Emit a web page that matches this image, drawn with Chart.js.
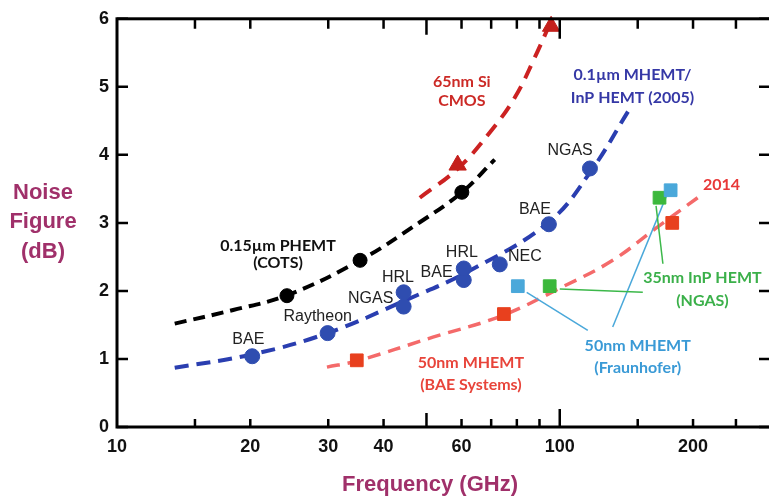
<!DOCTYPE html>
<html>
<head>
<meta charset="utf-8">
<script src="https://cdn.jsdelivr.net/npm/chart.js@4/dist/chart.umd.min.js"></script>
<style>
  html, body { margin: 0; padding: 0; background: #fff; overflow: hidden; }
</style>
</head>
<body>
<canvas id="c" width="790" height="497"></canvas>
<script>
// axis ticks
const xTickLabels = [10, 20, 30, 40, 60, 100, 200];
const xMinorTicks = [15, 20, 30, 40, 50, 60, 70, 80, 90, 100, 150, 200, 250];
const yTicks = [0, 1, 2, 3, 4, 5, 6];

// measured points
const phemtFreq = [24.2, 35.4, 60.1];
const phemtNF = [1.93, 2.45, 3.45];
const mhemtFreq = [20.2, 29.9, 44.4, 44.4, 60.7, 60.7, 73.2, 94.5, 117];
const mhemtNF = [1.04, 1.38, 1.98, 1.77, 2.16, 2.33, 2.39, 2.98, 3.80];
const cmosFreq = [58.8, 95.6];
const cmosNF = [3.85, 5.89];
const baeFreq = [34.8, 74.8, 179.5];
const baeNF = [0.98, 1.66, 3.00];
const fraunFreq = [80.4, 178];
const fraunNF = [2.07, 3.48];
const ngasFreq = [94.9, 168];
const ngasNF = [2.07, 3.37];

// trend curves
const phemtFitFreq = [13.5, 18.3, 24.3, 35.4, 48.3, 60.1, 71.3];
const phemtFitNF = [1.52, 1.72, 1.94, 2.45, 3.01, 3.45, 3.93];
const mhemtFitFreq = [13.5, 20.3, 29.9, 44.7, 62.7, 94.4, 117, 144];
const mhemtFitNF = [0.87, 1.07, 1.38, 1.86, 2.30, 3.01, 3.74, 4.68];
const cmosFitFreq = [48.3, 58.9, 69.5, 79.1, 87.8, 95.9];
const cmosFitNF = [3.37, 3.80, 4.33, 4.84, 5.43, 5.99];
const fit2014Freq = [29.8, 34.8, 51.7, 74.3, 100, 131.7, 165.5, 204.9];
const fit2014NF = [0.88, 0.97, 1.32, 1.64, 2.04, 2.45, 2.93, 3.37];

// leader lines for the callouts
const ngasLeadAFreq = [165, 171];
const ngasLeadANF = [3.25, 2.40];
const ngasLeadBFreq = [100, 154];
const ngasLeadBNF = [2.03, 1.98];
const fraunLeadAFreq = [84.2, 115.7];
const fraunLeadANF = [1.98, 1.42];
const fraunLeadBFreq = [131.7, 174];
const fraunLeadBNF = [1.47, 3.39];

// text notes: [text, freq, NF, colour, font]
const bold = 'bold 16px Lato';
const plain = '16px Arial';
const notes = [
  ['65nm Si', 60.1, 5.08, '#cc2a26', bold],
  ['CMOS', 60.1, 4.79, '#cc2a26', bold],
  ['0.1\u00b5m MHEMT/', 146, 5.18, '#3538a6', bold],
  ['InP HEMT (2005)', 146, 4.84, '#3538a6', bold],
  ['0.15\u00b5m PHEMT', 23.1, 2.67, '#111', bold],
  ['(COTS)', 23.1, 2.41, '#111', bold],
  ['50nm MHEMT', 63, 0.95, '#e8443a', bold],
  ['(BAE Systems)', 63, 0.62, '#e8443a', bold],
  ['35nm InP HEMT', 210, 2.19, '#3bb04a', bold],
  ['(NGAS)', 210, 1.86, '#3bb04a', bold],
  ['50nm MHEMT', 150, 1.20, '#3a9ad6', bold],
  ['(Fraunhofer)', 150, 0.87, '#3a9ad6', bold],
  ['2014', 232, 3.56, '#e83838', bold],
  ['BAE', 19.8, 1.29, '#222', plain],
  ['Raytheon', 28.4, 1.62, '#222', plain],
  ['NGAS', 37.4, 1.89, '#222', plain],
  ['HRL', 43.1, 2.19, '#222', plain],
  ['BAE', 52.7, 2.27, '#222', plain],
  ['HRL', 60.1, 2.56, '#222', plain],
  ['NEC', 83.4, 2.50, '#222', plain],
  ['BAE', 87.9, 3.19, '#222', plain],
  ['NGAS', 105.5, 4.06, '#222', plain]
];

const pts = (xs, ys) => xs.map((x, i) => ({ x, y: ys[i] }));

function markers(xs, ys, color, style, r) {
  return {
    data: pts(xs, ys), showLine: false, clip: false,
    pointStyle: style, pointRadius: r, pointBackgroundColor: color,
    pointBorderColor: color, pointBorderWidth: 1
  };
}
function curve(xs, ys, color, width, dash) {
  return {
    data: pts(xs, ys), showLine: true, pointRadius: 0,
    borderColor: color, borderWidth: width, borderDash: dash,
    tension: 0.4
  };
}
function lead(xs, ys, color) {
  return { data: pts(xs, ys), showLine: true, pointRadius: 0, borderColor: color, borderWidth: 1.5 };
}

const frame = {
  id: 'frame',
  afterDatasetsDraw(chart) {
    const { ctx, chartArea: a, scales: { x, y } } = chart;
    ctx.save();
    ctx.strokeStyle = '#000';
    ctx.lineWidth = 3;
    ctx.strokeRect(a.left, a.top, a.right - a.left, a.bottom - a.top);
    ctx.lineWidth = 2.5;
    ctx.beginPath();
    xMinorTicks.forEach(v => {
      const px = x.getPixelForValue(v);
      const len = v === 100 ? 18 : v === 50 ? 14 : 8;
      ctx.moveTo(px, a.bottom); ctx.lineTo(px, a.bottom - len);
      ctx.moveTo(px, a.top); ctx.lineTo(px, a.top + len + 2);
    });
    yTicks.forEach(v => {
      const py = y.getPixelForValue(v);
      ctx.moveTo(a.left, py); ctx.lineTo(a.left + 11, py);
      ctx.moveTo(a.right, py); ctx.lineTo(a.right - 12, py);
    });
    ctx.stroke();

    ctx.textAlign = 'center';
    ctx.textBaseline = 'middle';
    notes.forEach(([t, f, n, c, font]) => {
      ctx.font = font;
      ctx.fillStyle = c;
      ctx.fillText(t, x.getPixelForValue(f), y.getPixelForValue(n));
    });

    ctx.fillStyle = '#a0306a';
    ctx.font = 'bold 22px Arial';
    ctx.fillText('Noise', 43, 193);
    ctx.fillText('Figure', 43, 222);
    ctx.fillText('(dB)', 43, 252);
    ctx.fillText('Frequency (GHz)', 430, 485);
    ctx.restore();
  }
};

new Chart(document.getElementById('c'), {
  type: 'scatter',
  data: {
    datasets: [
      markers(cmosFreq, cmosNF, '#c4201c', 'triangle', 10),
      markers(phemtFreq, phemtNF, '#000', 'circle', 7),
      markers(mhemtFreq, mhemtNF, '#2f4db0', 'circle', 7.5),
      markers(baeFreq, baeNF, '#e8401e', 'rect', 9),
      markers(fraunFreq, fraunNF, '#4aa8da', 'rect', 9),
      markers(ngasFreq, ngasNF, '#3cb83c', 'rect', 9),
      lead(ngasLeadAFreq, ngasLeadANF, '#3cb84a'),
      lead(ngasLeadBFreq, ngasLeadBNF, '#3cb84a'),
      lead(fraunLeadAFreq, fraunLeadANF, '#4aa8da'),
      lead(fraunLeadBFreq, fraunLeadBNF, '#4aa8da'),
      curve(phemtFitFreq, phemtFitNF, '#000', 4, [12, 7]),
      curve(mhemtFitFreq, mhemtFitNF, '#2a3eb0', 4, [14, 8]),
      curve(cmosFitFreq, cmosFitNF, '#cc2222', 4, [14, 9]),
      curve(fit2014Freq, fit2014NF, '#f46a6a', 3.5, [13, 8])
    ]
  },
  options: {
    responsive: false,
    animation: false,
    events: [],
    layout: { padding: { top: 18, right: 19, left: 0, bottom: 0 } },
    plugins: { legend: { display: false }, tooltip: { enabled: false } },
    scales: {
      x: {
        type: 'logarithmic', min: 10, max: 300,
        afterBuildTicks: s => { s.ticks = xTickLabels.map(v => ({ value: v })); },
        afterFit: s => { s.height = 70; },
        grid: { display: false, drawTicks: false },
        border: { display: false },
        ticks: {
          autoSkip: false, maxRotation: 0, padding: 9, color: '#111',
          font: { family: 'Arial', size: 18, weight: 'bold' },
          callback: v => String(v)
        }
      },
      y: {
        min: 0, max: 6,
        afterBuildTicks: s => { s.ticks = yTicks.map(v => ({ value: v })); },
        afterFit: s => { s.width = 117; },
        grid: { display: false, drawTicks: false },
        border: { display: false },
        ticks: {
          padding: 8, color: '#111',
          font: { family: 'Arial', size: 18, weight: 'bold' }
        }
      }
    }
  },
  plugins: [frame]
});
</script>
</body>
</html>
